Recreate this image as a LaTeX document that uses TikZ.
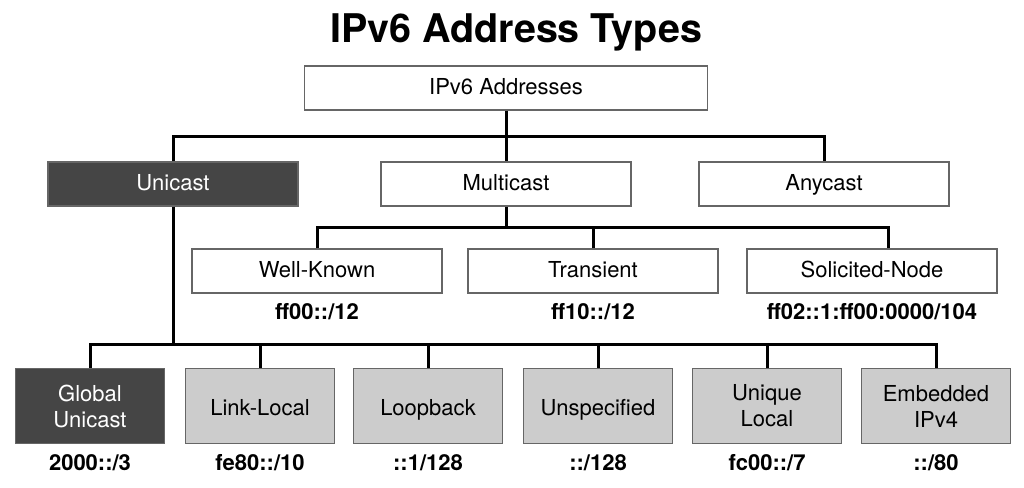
\documentclass[tikz,border=0pt]{standalone}
\usepackage{fontspec}
\setmainfont{TeX Gyre Heros}
\usetikzlibrary{positioning}
\begin{document}
\begin{tikzpicture}[x = 1pt, y = -1pt,
    box/.style = {draw = black!60, line width = 1.2pt, fill = white, inner sep = 0pt,
      minimum width = 250pt, minimum height = 44pt, text height = 17.5pt, text depth = 4.5pt,
      font = \fontsize{22}{26}\selectfont},
    darkbox/.style = {box, fill = black!73, text = white},
    leaf/.style = {box, fill = black!20, minimum width = 149pt, minimum height = 75pt,
      text height = 21.5pt, text depth = 2.5pt, align = center},
    twoline/.style = {text height = , text depth = },
    darkleaf/.style = {leaf, fill = black!73, text = white},
    pfxlabel/.style = {inner sep = 0pt, font = \fontsize{22}{26}\selectfont\bfseries},
    bus/.style = {line width = 3pt, black}]
  \useasboundingbox (0, 0) rectangle (1024, 487);
  \node[anchor = base, font = \fontsize{39.5}{44}\selectfont\bfseries] (title) at (516, 43) {IPv6 Address Types};
  % first two levels
  \node[box, minimum width = 403pt] (root) at (506, 88) {IPv6 Addresses};
  \node[darkbox] (ucast) at (173, 184) {Unicast};
  \node[box] (mcast) at (506, 184) {Multicast};
  \node[box] (acast) at (824, 184) {Anycast};
  % multicast kinds
  \node[box] (wk) at (317, 271) {Well-Known};
  \node[box] (tr) at (593, 271) {Transient};
  \node[box] (sn) at (872, 271) {Solicited-Node};
  \node[pfxlabel, below = 10pt of wk] (wkpre) {ff00::/12};
  \node[pfxlabel, below = 10pt of tr] (trpre) {ff10::/12};
  \node[pfxlabel, below = 10pt of sn] (snpre) {ff02::1:ff00:0000/104};
  % unicast kinds
  \node[darkleaf, twoline] (gu) at (90, 406) {Global\\Unicast};
  \node[leaf] (ll) at (260, 406) {Link-Local};
  \node[leaf] (lb) at (428, 406) {Loopback};
  \node[leaf] (us) at (598, 406) {Unspecified};
  \node[leaf, twoline] (ul) at (767, 406) {Unique\\Local};
  \node[leaf, twoline] (em) at (936, 406) {Embedded\\IPv4};
  \node[pfxlabel, below = 10pt of gu] (gupre) {2000::/3};
  \node[pfxlabel, below = 10pt of ll] (llpre) {fe80::/10};
  \node[pfxlabel, below = 10pt of lb] (lbpre) {::1/128};
  \node[pfxlabel, below = 10pt of us] (uspre) {::/128};
  \node[pfxlabel, below = 10pt of ul] (ulpre) {fc00::/7};
  \node[pfxlabel, below = 10pt of em] (empre) {::/80};
  % buses
  \coordinate (topbus) at (506, 136);
  \coordinate (mbus) at (506, 227);
  \coordinate (ubus) at (173, 344);
  \draw[bus] (root.south) -- (mcast.north);
  \draw[bus] (ucast.north) |- (topbus) -| (acast.north);
  \draw[bus] (mcast.south) -- (mbus);
  \draw[bus] (wk.north) |- (mbus) -| ([xshift = 16pt]sn.north);
  \draw[bus] (tr.north) -- (tr.north |- mbus);
  \draw[bus] (ucast.south) -- (ubus);
  \draw[bus] (gu.north) |- (ubus) -| (em.north);
  \draw[bus] (ll.north) -- (ll.north |- ubus);
  \draw[bus] (lb.north) -- (lb.north |- ubus);
  \draw[bus] (us.north) -- (us.north |- ubus);
  \draw[bus] (ul.north) -- (ul.north |- ubus);
\end{tikzpicture}
\end{document}
